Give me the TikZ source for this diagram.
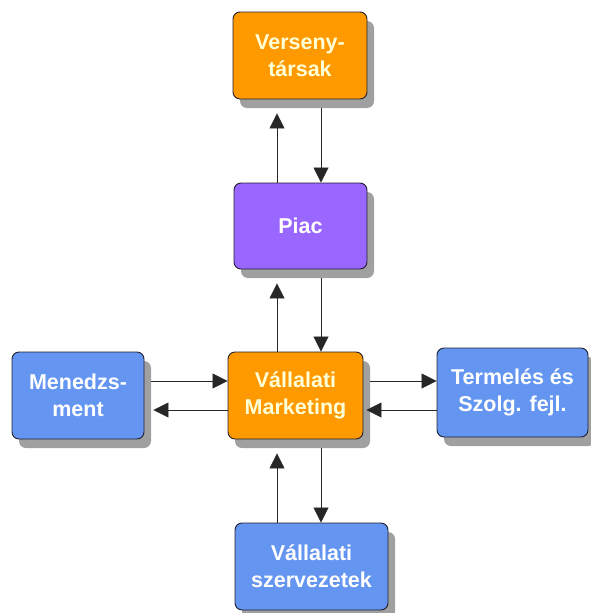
\documentclass[tikz,border=0pt]{standalone}
\usepackage{fontspec}
\setmainfont{Liberation Sans}
\usetikzlibrary{shadows,arrows.meta,calc}
\definecolor{boxorange}{HTML}{FF9900}
\definecolor{boxpurple}{HTML}{9966FF}
\definecolor{boxblue}{HTML}{6495F0}
\definecolor{shadowgray}{HTML}{A0A0A0}
\definecolor{edgedark}{HTML}{202030}
\definecolor{creamtext}{HTML}{FFFFD8}
\begin{document}
\begin{tikzpicture}[x=1pt,y=-1pt,
  unit/.style={draw=edgedark, line width=0.9pt, rounded corners=7pt,
    inner sep=0pt, align=center,
    font=\fontsize{21.5}{27}\selectfont\bfseries,
    drop shadow={shadow xshift=7pt, shadow yshift=-9pt, fill=shadowgray, opacity=1}},
  orangeunit/.style={unit, fill=boxorange, text=creamtext},
  purpleunit/.style={unit, fill=boxpurple, text=white},
  blueunit/.style={unit, fill=boxblue, text=white},
  flow/.style={draw=black!85, line width=0.8pt,
    -{Triangle[length=15pt,width=15pt]}}
]
\useasboundingbox (0,0) rectangle (590,613);
\fill[white] (0,0) rectangle (590,613);

% units
\node[orangeunit, minimum width=134pt, minimum height=87pt] (vers) at (300,55.5) {Verseny-\\társak};
\node[purpleunit, minimum width=133pt, minimum height=86pt] (piac) at (300.5,226) {Piac};
\node[orangeunit, minimum width=135pt, minimum height=87pt] (mark) at (295.5,395.5) {Vállalati\\Marketing};
\node[blueunit, minimum width=132pt, minimum height=87pt] (mgmt) at (78,395.5) {Menedzs-\\ment};
\node[blueunit, minimum width=151pt, minimum height=89pt] (term) at (512.5,392.5) {Termelés és\\Szolg. fejl.};
\node[blueunit, minimum width=153pt, minimum height=87pt] (szerv) at (311.5,566.5) {Vállalati\\szervezetek};

% guide positions of the connectors
\coordinate (xl) at (277,0);
\coordinate (xr) at (321,0);
\coordinate (yt) at (0,381);
\coordinate (yb) at (0,410);

% vertical connectors
\draw[flow, shorten >=14pt] (piac.north -| xl) -- (vers.south -| xl);
\draw[flow, shorten <=9pt] (vers.south -| xr) -- (piac.north -| xr);
\draw[flow, shorten >=14pt] (mark.north -| xl) -- (piac.south -| xl);
\draw[flow, shorten <=9pt] (piac.south -| xr) -- (mark.north -| xr);
\draw[flow, shorten >=14pt] (szerv.north -| xl) -- (mark.south -| xl);
\draw[flow, shorten <=9pt] (mark.south -| xr) -- (szerv.north -| xr);

% horizontal connectors
\draw[flow, shorten <=7pt] (mgmt.east |- yt) -- (mark.west |- yt);
\draw[flow, shorten >=9pt] (mark.west |- yb) -- (mgmt.east |- yb);
\draw[flow, shorten <=7pt] (mark.east |- yt) -- (term.west |- yt);
\draw[flow, shorten >=3pt] (term.west |- yb) -- (mark.east |- yb);
\end{tikzpicture}
\end{document}
